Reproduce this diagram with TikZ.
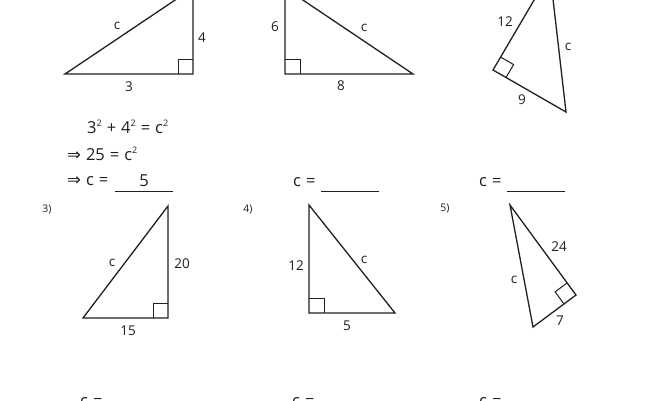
\documentclass[tikz,border=0pt]{standalone}
\usepackage{fontspec}
\setmainfont{Open Sans}
\newfontfamily\symf{DejaVu Sans}
\usetikzlibrary{calc}
\definecolor{ink}{HTML}{231F20}
\newcommand\rmark[3]{%
  \coordinate (rmp) at ($(#1)!15pt!(#2)$);
  \coordinate (rmq) at ($(#1)!15pt!(#3)$);
  \draw[sq] (rmp) -- ($(rmp)+(rmq)-(#1)$) -- (rmq);}
\newcommand\sqr[1]{\raisebox{6.5pt}{\fontsize{9}{9}\selectfont #1}}
\newcommand\arr{{\symf\fontsize{16.5}{18}\selectfont ⇒}}
\newcommand\gap{\hspace{5pt}}
\begin{document}
\begin{tikzpicture}[x=1pt,y=-1pt,
  tri/.style={draw=ink,line width=1.3pt,line join=miter},
  sq/.style={draw=ink,line width=1pt},
  uline/.style={draw=ink,line width=1pt},
  lbl/.style={font=\fontsize{13.5}{15}\selectfont,text=ink,inner sep=0pt},
  eq/.style={font=\fontsize{16.5}{19}\selectfont,text=ink,inner sep=0pt},
  num/.style={font=\fontsize{10.5}{13}\selectfont,text=ink,inner sep=0pt}]
\useasboundingbox (0,0) rectangle (650,400);
\clip (0,0) rectangle (650,400);
\fill[white] (0,0) rectangle (650,400);
% triangle 1
\coordinate (A1) at (65,74); \coordinate (R1) at (193,74); \coordinate (T1) at (193,-12);
\draw[tri] (A1) -- (R1) -- (T1) -- cycle;
\rmark{R1}{A1}{T1}
\node[lbl] (c1) at (117,26) {c};
\node[lbl] (l14) at (202,38) {4};
\node[lbl] (l13) at (129,87) {3};
% triangle 2
\coordinate (R2) at (285,74); \coordinate (B2) at (413,74); \coordinate (T2) at (285,-12);
\draw[tri] (R2) -- (B2) -- (T2) -- cycle;
\rmark{R2}{B2}{T2}
\node[lbl] (l26) at (275,27) {6};
\node[lbl] (c2) at (364,28) {c};
\node[lbl] (l28) at (341,86) {8};
% triangle 3
\coordinate (R3) at (493,70); \coordinate (B3) at (566,112); \coordinate (T3) at (550,-27);
\draw[tri] (R3) -- (B3) -- (T3) -- cycle;
\rmark{R3}{B3}{T3}
\node[lbl] (l312) at (505,22) {12};
\node[lbl] (c3) at (568,47) {c};
\node[lbl] (l39) at (522,100) {9};
% worked example
\node[eq,anchor=west] (e1) at (87,127) {3\sqr{2}\gap+\gap4\sqr{2}\gap=\gap c\sqr{2}};
\node[eq,anchor=west] (e2) at (67,154) {\arr\gap25\gap=\gap c\sqr{2}};
\node[eq,anchor=west] (e3) at (67,181) {\arr\gap c\gap=};
\node[eq] (ans) at (144,181) {5};
\coordinate (u1a) at (115,191.5); \coordinate (u1b) at (173,191.5);
\draw[uline] (u1a) -- (u1b);
\node[eq,anchor=west] (e4) at (293,182) {c\gap=};
\coordinate (u2a) at (321,191.5); \coordinate (u2b) at (379,191.5);
\draw[uline] (u2a) -- (u2b);
\node[eq,anchor=west] (e5) at (479,182) {c\gap=};
\coordinate (u3a) at (507,191.5); \coordinate (u3b) at (565,191.5);
\draw[uline] (u3a) -- (u3b);
% numbers
\node[num] (n3) at (47,210) {3)};
\node[num] (n4) at (248,210) {4)};
\node[num] (n5) at (445,209) {5)};
% triangle 4 (problem 3)
\coordinate (T4) at (168,206); \coordinate (R4) at (168,318); \coordinate (A4) at (83,318);
\draw[tri] (A4) -- (R4) -- (T4) -- cycle;
\rmark{R4}{A4}{T4}
\node[lbl] (c4) at (112,263) {c};
\node[lbl] (l420) at (182,264) {20};
\node[lbl] (l415) at (128,331) {15};
% triangle 5 (problem 4)
\coordinate (T5) at (309,205); \coordinate (R5) at (309,313); \coordinate (B5) at (395,313);
\draw[tri] (R5) -- (B5) -- (T5) -- cycle;
\rmark{R5}{B5}{T5}
\node[lbl] (l512) at (296,266) {12};
\node[lbl] (c5) at (364,260) {c};
\node[lbl] (l55) at (347,326) {5};
% triangle 6 (problem 5)
\coordinate (T6) at (510,205); \coordinate (R6) at (576,295); \coordinate (B6) at (533,327);
\draw[tri] (T6) -- (R6) -- (B6) -- cycle;
\rmark{R6}{T6}{B6}
\node[lbl] (l624) at (559,247) {24};
\node[lbl] (c6) at (514,280) {c};
\node[lbl] (l67) at (560,321) {7};
% bottom row
\node[eq,anchor=west] (b1) at (80,402) {c\gap=};
\node[eq,anchor=west] (b2) at (292,402) {c\gap=};
\node[eq,anchor=west] (b3) at (479,402) {c\gap=};
\end{tikzpicture}
\end{document}
